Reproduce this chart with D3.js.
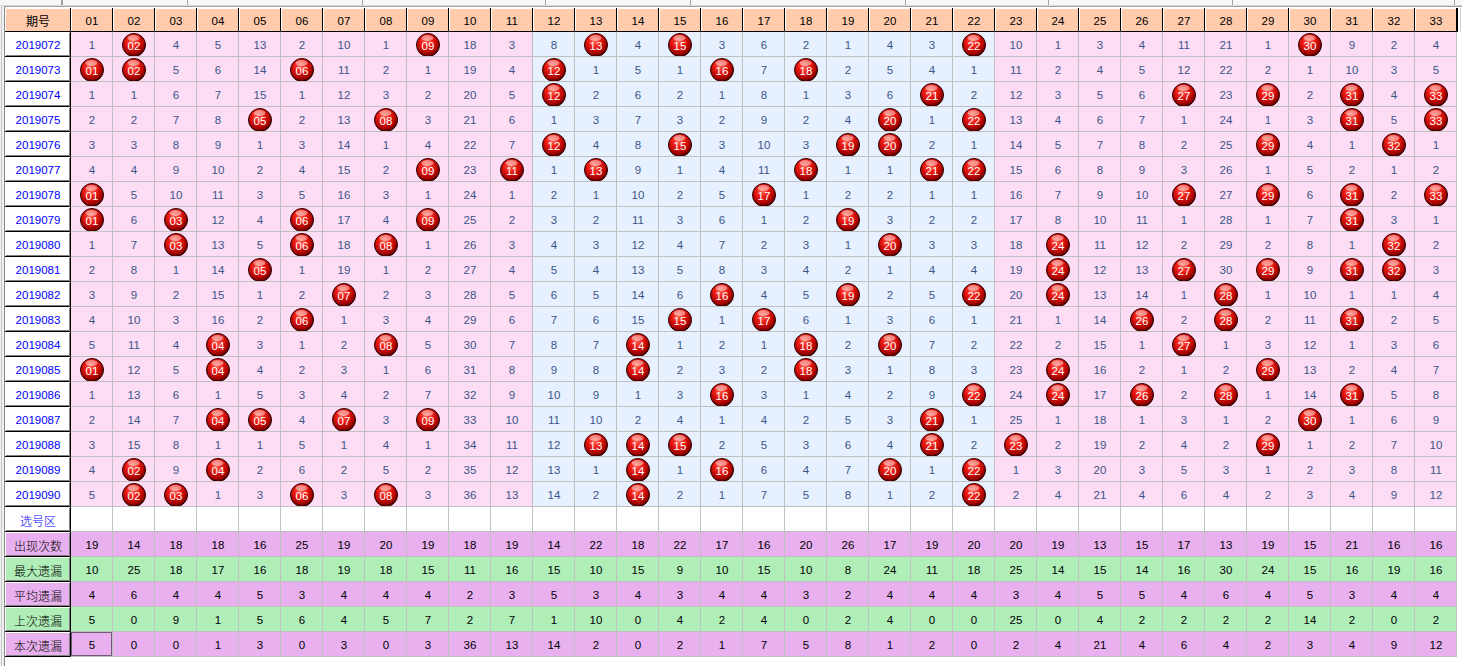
<!DOCTYPE html>
<html>
<head>
<meta charset="utf-8">
<script src="https://cdn.jsdelivr.net/npm/d3@7"></script>
<style>
  body { margin: 0; background: #fff; overflow: hidden; }
  svg { display: block; }
</style>
</head>
<body>
<svg id="chart" width="1462" height="666"></svg>
<script>
// red ball omission table, periods 2019072 - 2019090
const numbers = ['01','02','03','04','05','06','07','08','09','10','11',
  '12','13','14','15','16','17','18','19','20','21','22',
  '23','24','25','26','27','28','29','30','31','32','33'];

const periods = ['2019072','2019073','2019074','2019075','2019076','2019077','2019078',
  '2019079','2019080','2019081','2019082','2019083','2019084','2019085','2019086',
  '2019087','2019088','2019089','2019090'];

// omission per period, 0 = drawn (ball)
const missRows = [
  [1,0,4,5,13,2,10,1,0,18,3, 8,0,4,0,3,6,2,1,4,3,0, 10,1,3,4,11,21,1,0,9,2,4],
  [0,0,5,6,14,0,11,2,1,19,4, 0,1,5,1,0,7,0,2,5,4,1, 11,2,4,5,12,22,2,1,10,3,5],
  [1,1,6,7,15,1,12,3,2,20,5, 0,2,6,2,1,8,1,3,6,0,2, 12,3,5,6,0,23,0,2,0,4,0],
  [2,2,7,8,0,2,13,0,3,21,6, 1,3,7,3,2,9,2,4,0,1,0, 13,4,6,7,1,24,1,3,0,5,0],
  [3,3,8,9,1,3,14,1,4,22,7, 0,4,8,0,3,10,3,0,0,2,1, 14,5,7,8,2,25,0,4,1,0,1],
  [4,4,9,10,2,4,15,2,0,23,0, 1,0,9,1,4,11,0,1,1,0,0, 15,6,8,9,3,26,1,5,2,1,2],
  [0,5,10,11,3,5,16,3,1,24,1, 2,1,10,2,5,0,1,2,2,1,1, 16,7,9,10,0,27,0,6,0,2,0],
  [0,6,0,12,4,0,17,4,0,25,2, 3,2,11,3,6,1,2,0,3,2,2, 17,8,10,11,1,28,1,7,0,3,1],
  [1,7,0,13,5,0,18,0,1,26,3, 4,3,12,4,7,2,3,1,0,3,3, 18,0,11,12,2,29,2,8,1,0,2],
  [2,8,1,14,0,1,19,1,2,27,4, 5,4,13,5,8,3,4,2,1,4,4, 19,0,12,13,0,30,0,9,0,0,3],
  [3,9,2,15,1,2,0,2,3,28,5, 6,5,14,6,0,4,5,0,2,5,0, 20,0,13,14,1,0,1,10,1,1,4],
  [4,10,3,16,2,0,1,3,4,29,6, 7,6,15,0,1,0,6,1,3,6,1, 21,1,14,0,2,0,2,11,0,2,5],
  [5,11,4,0,3,1,2,0,5,30,7, 8,7,0,1,2,1,0,2,0,7,2, 22,2,15,1,0,1,3,12,1,3,6],
  [0,12,5,0,4,2,3,1,6,31,8, 9,8,0,2,3,2,0,3,1,8,3, 23,0,16,2,1,2,0,13,2,4,7],
  [1,13,6,1,5,3,4,2,7,32,9, 10,9,1,3,0,3,1,4,2,9,0, 24,0,17,0,2,0,1,14,0,5,8],
  [2,14,7,0,0,4,0,3,0,33,10, 11,10,2,4,1,4,2,5,3,0,1, 25,1,18,1,3,1,2,0,1,6,9],
  [3,15,8,1,1,5,1,4,1,34,11, 12,0,0,0,2,5,3,6,4,0,2, 0,2,19,2,4,2,0,1,2,7,10],
  [4,0,9,0,2,6,2,5,2,35,12, 13,1,0,1,0,6,4,7,0,1,0, 1,3,20,3,5,3,1,2,3,8,11],
  [5,0,0,1,3,0,3,0,3,36,13, 14,2,0,2,1,7,5,8,1,2,0, 2,4,21,4,6,4,2,3,4,9,12]
];

const statLabels = ['出现次数','最大遗漏','平均遗漏','上次遗漏','本次遗漏'];
const appearCount = [19,14,18,18,16,25,19,20,19,18,19,14,22,18,22,17,16,20,26,17,19,20,20,19,13,15,17,13,19,15,21,16,16];
const maxMiss     = [10,25,18,17,16,18,19,18,15,11,16,15,10,15,9,10,15,10,8,24,11,18,25,14,15,14,16,30,24,15,16,19,16];
const avgMiss     = [4,6,4,4,5,3,4,4,4,2,3,5,3,4,3,4,4,3,2,4,4,4,3,4,5,5,4,6,4,5,3,4,4];
const lastMiss    = [5,0,9,1,5,6,4,5,7,2,7,1,10,0,4,2,4,0,2,4,0,0,25,0,4,2,2,2,2,14,2,0,2];
const curMiss     = [5,0,0,1,3,0,3,0,3,36,13,14,2,0,2,1,7,5,8,1,2,0,2,4,21,4,6,4,2,3,4,9,12];
const statRows = [appearCount, maxMiss, avgMiss, lastMiss, curMiss];

const pickLabel = '选号区';
const headLabel = '期号';

const svg = d3.select('#chart');
const numFont = '"Liberation Sans", Arial, sans-serif';
const cjkFont = '"Noto Sans CJK SC", sans-serif';

const labelLeft = 5;
const headTop = 8;
const x = d3.scaleBand().domain(numbers).range([71, 1457]);
const rowKeys = periods.concat([pickLabel], statLabels);
const y = d3.scaleBand().domain(rowKeys).range([32, 657]);
const bw = x.bandwidth(), bh = y.bandwidth();

const zoneFill = j => (j >= 11 && j < 22) ? '#e6f0fe' : '#fddcf5';
const statFill = i => i % 2 === 0 ? '#e8b0ee' : '#b0eeb8';

// gradient for the red balls
const defs = svg.append('defs');
const grad = defs.append('radialGradient').attr('id', 'ballGrad')
  .attr('cx', '45%').attr('cy', '38%').attr('r', '60%').attr('fx', '42%').attr('fy', '30%');
grad.append('stop').attr('offset', '0%').attr('stop-color', '#ff6a5a');
grad.append('stop').attr('offset', '45%').attr('stop-color', '#ee1a12');
grad.append('stop').attr('offset', '85%').attr('stop-color', '#a00202');
grad.append('stop').attr('offset', '100%').attr('stop-color', '#5a0000');

// window frame bits
svg.append('rect').attr('x', 0).attr('y', 0).attr('width', 1462).attr('height', 6).attr('fill', '#f7f7f7');
svg.append('line').attr('x1', 0).attr('x2', 1462).attr('y1', 6.5).attr('y2', 6.5).attr('stroke', '#a0a0a0');
svg.append('line').attr('x1', 0).attr('x2', 1462).attr('y1', 5.5).attr('y2', 5.5).attr('stroke', '#d8d8d8');
const tabStops = [61, 62, 187, 362, 545, 690, 905, 1048, 1232, 1454];
svg.selectAll('line.tab').data(tabStops).enter().append('line')
  .attr('class', 'tab')
  .attr('x1', d => d + 0.5).attr('x2', d => d + 0.5).attr('y1', 0).attr('y2', 5)
  .attr('stroke', '#a0a0a0');
svg.append('rect').attr('x', 0).attr('y', 6).attr('width', 5).attr('height', 660).attr('fill', '#f0f0f0');
svg.append('line').attr('x1', 1.5).attr('x2', 1.5).attr('y1', 6).attr('y2', 666).attr('stroke', '#c8c8c8');
svg.append('line').attr('x1', 4.5).attr('x2', 4.5).attr('y1', 6).attr('y2', 666).attr('stroke', '#8a8a8a');

// header row
const head = svg.append('g');
const headCells = [{ key: headLabel, x0: labelLeft, w: 71 - labelLeft }]
  .concat(numbers.map(n => ({ key: n, x0: x(n), w: bw })));
head.selectAll('rect').data(headCells).enter().append('rect')
  .attr('x', d => d.x0).attr('y', headTop).attr('width', d => d.w).attr('height', 32 - headTop)
  .attr('fill', '#ffcbac');
head.selectAll('path.hl').data(headCells).enter().append('path')
  .attr('class', 'hl')
  .attr('d', d => `M${d.x0 + 0.5},${31}V${headTop + 0.5}H${d.x0 + d.w - 1}`)
  .attr('fill', 'none').attr('stroke', '#fff');
head.selectAll('path.sh').data(headCells).enter().append('path')
  .attr('class', 'sh')
  .attr('d', d => `M${d.x0 + d.w - 0.5},${headTop}V${31.5}H${d.x0}`)
  .attr('fill', 'none').attr('stroke', '#000');
head.selectAll('text').data(headCells).enter().append('text')
  .attr('x', d => d.x0 + d.w / 2).attr('y', 20.5)
  .attr('text-anchor', 'middle').attr('dominant-baseline', 'central')
  .attr('font-family', d => d.key === headLabel ? cjkFont : numFont)
  .attr('font-size', d => d.key === headLabel ? 12 : 11.5)
  .attr('fill', '#000')
  .text(d => d.key);

// body cells
const cells = [];
periods.forEach((p, i) => numbers.forEach((n, j) => cells.push({ row: p, n, j, v: missRows[i][j], kind: 'miss' })));
numbers.forEach((n, j) => cells.push({ row: pickLabel, n, j, v: null, kind: 'pick' }));
statLabels.forEach((s, i) => numbers.forEach((n, j) => cells.push({ row: s, n, j, v: statRows[i][j], kind: 'stat', si: i })));

const body = svg.append('g');
body.selectAll('rect').data(cells).enter().append('rect')
  .attr('x', d => x(d.n)).attr('y', d => y(d.row)).attr('width', bw).attr('height', bh)
  .attr('fill', d => d.kind === 'miss' ? zoneFill(d.j) : d.kind === 'pick' ? '#fff' : statFill(d.si));

// grid
const grid = svg.append('g').attr('stroke', '#c0c0c0').attr('shape-rendering', 'crispEdges');
grid.selectAll('line.v').data(numbers).enter().append('line')
  .attr('class', 'v')
  .attr('x1', d => x(d) + bw - 0.5).attr('x2', d => x(d) + bw - 0.5)
  .attr('y1', 32).attr('y2', 657);
grid.selectAll('line.h').data(rowKeys).enter().append('line')
  .attr('class', 'h')
  .attr('x1', 71).attr('x2', 1457)
  .attr('y1', d => y(d) + bh - 0.5).attr('y2', d => y(d) + bh - 0.5);

// plain numbers
body.selectAll('text.num').data(cells.filter(d => d.kind !== 'pick' && !(d.kind === 'miss' && d.v === 0)))
  .enter().append('text')
  .attr('class', 'num')
  .attr('x', d => x(d.n) + bw / 2).attr('y', d => y(d.row) + bh / 2 + 0.5)
  .attr('text-anchor', 'middle').attr('dominant-baseline', 'central')
  .attr('font-family', numFont).attr('font-size', 11.5)
  .attr('fill', d => d.kind === 'miss' ? '#3b5688' : '#000')
  .text(d => d.v);

// red balls for drawn numbers
const balls = body.selectAll('g.ball').data(cells.filter(d => d.kind === 'miss' && d.v === 0))
  .enter().append('g')
  .attr('class', 'ball')
  .attr('transform', d => `translate(${x(d.n) + bw / 2},${y(d.row) + bh / 2 + 0.5})`);
balls.append('circle').attr('r', 11.5)
  .attr('fill', 'url(#ballGrad)').attr('stroke', '#2a0000').attr('stroke-width', 1);
balls.append('ellipse').attr('cx', -0.5).attr('cy', -7).attr('rx', 6).attr('ry', 3)
  .attr('fill', '#ffffff').attr('opacity', 0.45);
balls.append('text')
  .attr('text-anchor', 'middle').attr('dominant-baseline', 'central').attr('y', 0.5)
  .attr('font-family', numFont).attr('font-size', 11.5).attr('fill', '#fff')
  .text(d => d.n);

// row label buttons
const labels = svg.append('g');
labels.selectAll('rect').data(rowKeys).enter().append('rect')
  .attr('x', labelLeft).attr('y', d => y(d)).attr('width', 71 - labelLeft).attr('height', bh)
  .attr('fill', (d, i) => i <= periods.length ? '#fff' : statFill(i - periods.length - 1));
labels.selectAll('path.hl').data(rowKeys).enter().append('path')
  .attr('class', 'hl')
  .attr('d', d => `M${labelLeft + 0.5},${y(d) + bh - 1}V${y(d) + 0.5}H${70}`)
  .attr('fill', 'none').attr('stroke', '#fff');
labels.selectAll('path.sh').data(rowKeys).enter().append('path')
  .attr('class', 'sh')
  .attr('d', d => `M${labelLeft},${y(d) + bh - 0.5}H${70.5}V${y(d)}`)
  .attr('fill', 'none').attr('stroke', '#000');
labels.selectAll('path.sh2').data(rowKeys).enter().append('path')
  .attr('class', 'sh2')
  .attr('d', d => `M${labelLeft + 1},${y(d) + bh - 1.5}H${69.5}V${y(d) + 1}`)
  .attr('fill', 'none').attr('stroke', '#808080');
labels.selectAll('text').data(rowKeys).enter().append('text')
  .attr('x', 38).attr('y', d => y(d) + bh / 2 + 0.5)
  .attr('text-anchor', 'middle').attr('dominant-baseline', 'central')
  .attr('font-family', (d, i) => i < periods.length ? numFont : cjkFont)
  .attr('font-size', (d, i) => i < periods.length ? 11.5 : 12)
  .attr('font-weight', 300)
  .attr('fill', (d, i) => i <= periods.length ? '#0000ff' : '#000')
  .text(d => d);

// right edge of the grid
svg.append('line').attr('x1', 1457.5).attr('x2', 1457.5).attr('y1', headTop).attr('y2', 32)
  .attr('stroke', '#000');
svg.append('line').attr('x1', 1460.5).attr('x2', 1460.5).attr('y1', headTop).attr('y2', 32)
  .attr('stroke', '#d0d0d0');

// focus marker on current omission, first column
svg.append('rect')
  .attr('x', x(numbers[0]) + 0.5).attr('y', y(statLabels[4]) + 0.5)
  .attr('width', bw - 2).attr('height', bh - 2)
  .attr('fill', 'none').attr('stroke', '#000').attr('stroke-dasharray', '1,1');
</script>
</body>
</html>
